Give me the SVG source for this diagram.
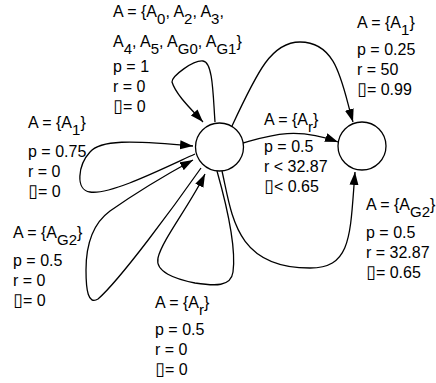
<svg xmlns="http://www.w3.org/2000/svg" width="436" height="383" viewBox="0 0 436 383">
<style>
.n{fill:#fff;stroke:#000;stroke-width:1.3}
.e{fill:none;stroke:#000;stroke-width:1.3;marker-end:url(#ah)}
text{font-family:"Liberation Sans",Arial,sans-serif;font-size:16px;fill:#000}
.s{font-size:15px}
.b{font-family:"DejaVu Sans",sans-serif;font-size:18px}
</style>
<defs>
<marker id="ah" markerUnits="userSpaceOnUse" markerWidth="14" markerHeight="10" refX="13" refY="4.5" orient="auto">
<path d="M0,0 L13,4.5 L0,9 z" fill="#000"/>
</marker>
</defs>
<rect width="436" height="383" fill="#fff"/>
<g id="connectors">
<path class="e" d="M 215 122 C 213 95, 213 62, 203 61 C 193 60, 172 76, 172 82 C 176 95, 192 110, 203 122"/>
<path class="e" d="M 232 126 C 258 70, 272 42, 300 42 C 338 42, 342 85, 353 122"/>
<path class="e" d="M 243 143 C 268 136, 295 126, 338 142"/>
<path class="e" d="M 222 171 C 232 215, 235 268, 310 268 C 352 268, 350 235, 355 172"/>
<path class="e" d="M 195 154 C 160 170, 110 195, 90 192 C 75 190, 78 165, 90 152 C 100 140, 130 140, 193 146"/>
<path class="e" d="M 201 168 C 175 205, 120 280, 98 299 C 88 305, 86 290, 86 270 C 86 240, 95 222, 110 211 C 130 197, 160 178, 193 160"/>
<path class="e" d="M 217 171 C 228 210, 236 250, 233 272 C 231 287, 215 286, 195 283 C 175 279, 155 272, 158 258 C 162 240, 190 205, 205 174"/>
</g>
<g id="s0"><circle class="n" cx="219.5" cy="147" r="24"/></g>
<g id="s1"><circle class="n" cx="362" cy="146" r="24"/></g>
<g id="labels">
<g id="lbl-self-top">
<text x="113" y="17">A = {A<tspan class="s" dy="7">0</tspan><tspan dy="-7">, A</tspan><tspan class="s" dy="7">2</tspan><tspan dy="-7">, A</tspan><tspan class="s" dy="7">3</tspan><tspan dy="-7">,</tspan></text>
<text x="113" y="47">A<tspan class="s" dy="7">4</tspan><tspan dy="-7">, A</tspan><tspan class="s" dy="7">5</tspan><tspan dy="-7">, A</tspan><tspan class="s" dy="7">G0</tspan><tspan dy="-7">, A</tspan><tspan class="s" dy="7">G1</tspan><tspan dy="-7">}</tspan></text>
<text x="113" y="72">p = 1</text>
<text x="113" y="92">r = 0</text>
<text x="113" y="112"><tspan class="b">▯</tspan>= 0</text>
</g>
<g id="lbl-a1-left">
<text x="28" y="128">A = {A<tspan class="s" dy="7">1</tspan><tspan dy="-7">}</tspan></text>
<text x="28" y="157">p = 0.75</text>
<text x="28" y="177">r = 0</text>
<text x="28" y="197"><tspan class="b">▯</tspan>= 0</text>
</g>
<g id="lbl-g2-left">
<text x="13" y="238">A = {A<tspan class="s" dy="7">G2</tspan><tspan dy="-7">}</tspan></text>
<text x="13" y="266">p = 0.5</text>
<text x="13" y="286">r = 0</text>
<text x="13" y="306"><tspan class="b">▯</tspan>= 0</text>
</g>
<g id="lbl-ar-bottom">
<text x="155" y="308">A = {A<tspan class="s" dy="7">r</tspan><tspan dy="-7">}</tspan></text>
<text x="155" y="335">p = 0.5</text>
<text x="155" y="355">r = 0</text>
<text x="155" y="375"><tspan class="b">▯</tspan>= 0</text>
</g>
<g id="lbl-ar-mid">
<text x="264" y="125">A = {A<tspan class="s" dy="7">r</tspan><tspan dy="-7">}</tspan></text>
<text x="264" y="152">p = 0.5</text>
<text x="264" y="172">r &lt; 32.87</text>
<text x="264" y="192"><tspan class="b">▯</tspan>&lt; 0.65</text>
</g>
<g id="lbl-a1-right">
<text x="357" y="28">A = {A<tspan class="s" dy="7">1</tspan><tspan dy="-7">}</tspan></text>
<text x="357" y="55">p = 0.25</text>
<text x="357" y="75">r = 50</text>
<text x="357" y="95"><tspan class="b">▯</tspan>= 0.99</text>
</g>
<g id="lbl-g2-right">
<text x="366" y="210">A = {A<tspan class="s" dy="7">G2</tspan><tspan dy="-7">}</tspan></text>
<text x="366" y="238">p = 0.5</text>
<text x="366" y="258">r = 32.87</text>
<text x="366" y="278"><tspan class="b">▯</tspan>= 0.65</text>
</g>
</g>
</svg>
